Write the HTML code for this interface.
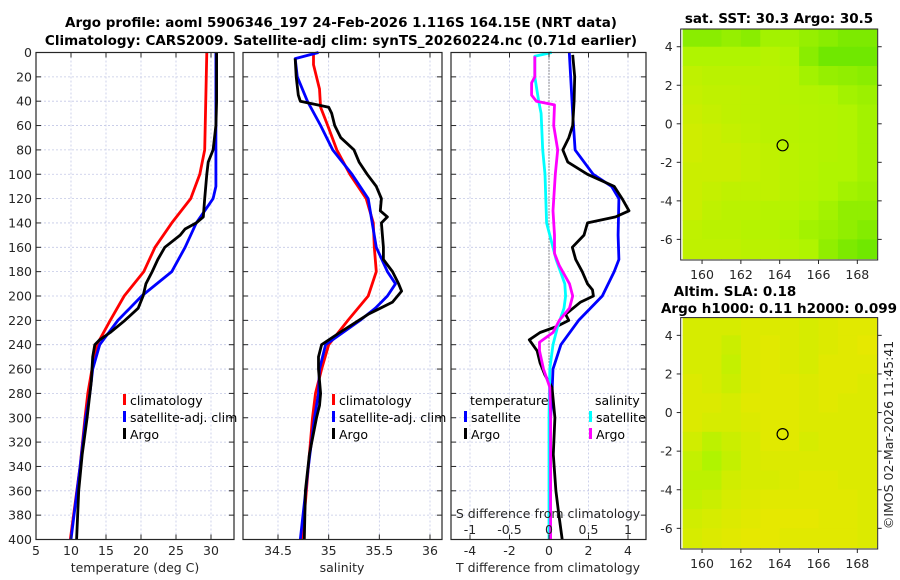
<!DOCTYPE html>
<html><head><meta charset="utf-8">
<style>
html,body{margin:0;padding:0;background:#fff;}
svg{display:block;font-family:"DejaVu Sans","Liberation Sans",sans-serif;}
.tk{font-size:12.5px;fill:#262626;}
.ttl{font-size:13.5px;font-weight:bold;fill:#000;}
.lg{font-size:12.5px;fill:#000;}
</style></head>
<body>
<svg id="fig" width="900" height="580" viewBox="0 0 900 580" xmlns="http://www.w3.org/2000/svg">
<rect width="900" height="580" fill="#fff"/>
<text class="ttl" x="341" y="27" text-anchor="middle">Argo profile: aoml 5906346_197 24-Feb-2026 1.116S 164.15E (NRT data)</text>
<text class="ttl" x="341" y="45" text-anchor="middle">Climatology: CARS2009. Satellite-adj clim: synTS_20260224.nc (0.71d earlier)</text>
<g id="g1"></g>
<g id="g2"></g>
<g id="g3"></g>
<g id="m1"></g>
<g id="m2"></g>
<text class="ttl" x="779" y="23" text-anchor="middle">sat. SST: 30.3 Argo: 30.5</text>
<text class="ttl" x="735" y="296" text-anchor="middle">Altim. SLA: 0.18</text>
<text class="ttl" x="779" y="313" text-anchor="middle">Argo h1000: 0.11 h2000: 0.099</text>
<text class="tk" transform="translate(893,435) rotate(-90)" text-anchor="middle">©IMOS 02-Mar-2026 11:45:41</text>
</svg>
<script>
// ---------- profile data ----------
const tClimDepth=[0,80,100,120,140,160,180,200,220,240,260,280,300,340,400];
const tClimVal=[29.4,29.1,28.4,27.1,24.4,22.0,20.4,17.6,15.6,13.7,13.0,12.4,12.0,11.3,9.9];
const tSatDepth=[0,110,120,130,140,160,180,200,220,240,260,280,300,340,400];
const tSatVal=[30.7,30.7,30.3,29.1,27.9,26.3,24.4,20.1,16.7,14.1,13.1,12.7,12.1,11.3,10.0];
const tArgoDepth=[0,40,60,80,90,100,120,135,140,145,150,160,170,180,190,200,210,220,230,236,240,250,270,300,330,360,400];
const tArgoVal=[30.8,30.8,30.7,30.3,29.6,29.4,29.1,28.9,27.9,26.3,25.6,23.4,22.4,21.6,20.7,20.3,19.6,17.7,15.6,14.1,13.4,13.1,12.9,12.3,11.6,11.1,10.8];

const sClimDepth=[0,10,30,45,60,80,100,120,140,160,180,200,220,240,260,280,300,340,400];
const sClimVal=[34.85,34.85,34.91,34.92,34.99,35.08,35.21,35.37,35.44,35.45,35.47,35.39,35.19,35.0,34.93,34.87,34.84,34.80,34.74];
const sSatDepth=[0,5,20,40,60,80,100,120,140,160,180,190,200,210,220,240,260,280,300,340,400];
const sSatVal=[34.9,34.67,34.69,34.79,34.92,35.04,35.23,35.39,35.43,35.47,35.58,35.66,35.58,35.46,35.31,34.97,34.91,34.9,34.86,34.8,34.72];
const sArgoDepth=[5,20,35,40,45,50,60,70,80,90,100,110,120,130,135,140,150,160,170,180,190,196,205,215,230,240,250,260,280,290,300,330,360,400];
const sArgoVal=[34.67,34.68,34.7,34.72,35.0,35.03,35.06,35.12,35.25,35.3,35.38,35.47,35.52,35.51,35.58,35.52,35.53,35.54,35.54,35.63,35.69,35.72,35.63,35.39,35.11,34.93,34.9,34.9,34.92,34.91,34.88,34.81,34.77,34.76];

const dtSatDepth=[0,50,80,100,110,120,150,170,180,200,220,240,260,280,300,400];
const dtSatVal=[1.03,1.2,1.32,2.24,3.17,3.54,3.5,3.54,3.3,2.7,1.5,0.6,0.2,0.15,0.08,0.08];
const dtArgoDepth=[2,20,40,60,70,80,90,100,110,120,130,135,140,150,160,170,180,190,195,200,205,215,220,225,230,236,245,255,265,275,300,330,360,380,400];
const dtArgoVal=[1.2,1.3,1.27,1.2,1.0,0.7,0.95,1.95,3.3,3.7,4.05,3.37,1.95,1.77,1.18,1.35,1.68,1.95,2.2,2.25,1.6,0.84,1.0,0.4,-0.45,-1.0,-0.6,-0.45,-0.2,0.15,0.3,0.22,0.35,0.5,0.67];
const dsSatDepth=[0,3,20,40,50,80,100,140,150,170,190,200,210,225,240,260,300,400];
const dsSatVal=[0.034,-0.18,-0.18,-0.13,-0.1,-0.08,-0.05,-0.03,0.01,0.09,0.2,0.21,0.19,0.11,0.05,0.01,0,0];
const dsArgoDepth=[3,20,25,35,40,43,60,80,100,130,150,165,175,190,200,210,220,230,238,245,260,275,300,400];
const dsArgoVal=[-0.18,-0.18,-0.22,-0.22,-0.16,0.07,0.06,0.11,0.08,0.05,0.07,0.07,0.13,0.26,0.3,0.26,0.13,0.05,-0.12,-0.12,-0.07,0.01,0.02,0.02];

const depthTicks=[0,20,40,60,80,100,120,140,160,180,200,220,240,260,280,300,320,340,360,380,400];
const tTicks=[5,10,15,20,25,30];
const sTicks=[34.5,35,35.5,36];
const dtTicks=[-4,-2,0,2,4];
const dsTicks=[-1,-0.5,0,0.5,1];

// ---------- map data (rows: lat 5..-7 step 1, cols: lon 159..169 step 1), 0=green 1=yellow ----------
const mapLats=[5,4,3,2,1,0,-1,-2,-3,-4,-5,-6,-7];
const mapLons=[159,160,161,162,163,164,165,166,167,168,169];
const sstGrid=[
[0.35,0.35,0.4,0.35,0.45,0.45,0.4,0.35,0.3,0.3],
[0.5,0.5,0.5,0.5,0.55,0.5,0.35,0.25,0.25,0.25],
[0.62,0.58,0.58,0.58,0.58,0.55,0.45,0.4,0.38,0.35],
[0.66,0.62,0.62,0.6,0.58,0.55,0.52,0.5,0.45,0.42],
[0.7,0.66,0.62,0.6,0.58,0.56,0.54,0.52,0.5,0.45],
[0.74,0.7,0.66,0.62,0.58,0.56,0.54,0.52,0.5,0.45],
[0.74,0.7,0.7,0.66,0.62,0.58,0.55,0.52,0.5,0.45],
[0.7,0.7,0.7,0.66,0.62,0.58,0.55,0.5,0.5,0.45],
[0.7,0.66,0.62,0.62,0.62,0.58,0.54,0.5,0.45,0.42],
[0.7,0.62,0.58,0.58,0.55,0.55,0.5,0.45,0.38,0.38],
[0.62,0.58,0.58,0.55,0.55,0.5,0.45,0.42,0.38,0.33],
[0.62,0.62,0.62,0.58,0.58,0.55,0.5,0.38,0.3,0.25]];
const slaGrid=[
[0.8,0.8,0.8,0.84,0.84,0.84,0.8,0.84,0.88,0.88],
[0.8,0.8,0.7,0.84,0.88,0.84,0.8,0.84,0.88,0.92],
[0.8,0.8,0.66,0.84,0.88,0.84,0.8,0.88,0.88,0.88],
[0.84,0.8,0.7,0.84,0.88,0.88,0.84,0.88,0.88,0.84],
[0.84,0.84,0.8,0.88,0.88,0.88,0.84,0.88,0.84,0.84],
[0.84,0.8,0.8,0.84,0.88,0.88,0.84,0.84,0.84,0.84],
[0.75,0.6,0.7,0.8,0.88,0.88,0.8,0.84,0.84,0.84],
[0.65,0.5,0.65,0.8,0.84,0.84,0.84,0.84,0.84,0.84],
[0.6,0.6,0.75,0.8,0.8,0.84,0.88,0.88,0.84,0.84],
[0.65,0.7,0.8,0.84,0.88,0.88,0.88,0.88,0.88,0.84],
[0.75,0.8,0.84,0.88,0.92,0.92,0.92,0.88,0.88,0.84],
[0.8,0.84,0.88,0.92,0.92,0.88,0.88,0.88,0.88,0.84]];
const argoLon=164.15, argoLat=-1.116;
const mapLatTicks=[4,2,0,-2,-4,-6];
const mapLonTicks=[160,162,164,166,168];

// ---------- drawing ----------
const NS="http://www.w3.org/2000/svg";
function mk(parent,tag,attrs){const e=document.createElementNS(NS,tag);for(const k in attrs)e.setAttribute(k,attrs[k]);parent.appendChild(e);return e;}
const Y0=52.5,Y1=539.5;
const yD=d=>Y0+(d/400)*(Y1-Y0);

function panel(g,x0,x1,xf,ticks){
  depthTicks.forEach(d=>{const l=mk(g,'line',{x1:x0,x2:x1,y1:yD(d),y2:yD(d),stroke:'#c3c8e6','stroke-width':0.8,'stroke-dasharray':'2,2'});
    });
  ticks.forEach(v=>{const x=xf(v);const l=mk(g,'line',{x1:x,x2:x,y1:Y0,y2:Y1,stroke:'#c3c8e6','stroke-width':0.8,'stroke-dasharray':'2,2'});
    });
}
function frame(g,x0,x1,xf,ticks,fmt,showDepthLabels){
  const r=mk(g,'rect',{x:x0,y:Y0,width:x1-x0,height:Y1-Y0,fill:'none',stroke:'#262626','stroke-width':1.2});
  
  depthTicks.forEach(d=>{
    mk(g,'line',{x1:x0,x2:x0+5,y1:yD(d),y2:yD(d),stroke:'#262626'});
    mk(g,'line',{x1:x1-5,x2:x1,y1:yD(d),y2:yD(d),stroke:'#262626'});
    if(showDepthLabels){const t=mk(g,'text',{x:x0-4,y:yD(d)+4.5,'text-anchor':'end',class:'tk'});t.textContent=d;
      }
  });
  ticks.forEach(v=>{const x=xf(v);
    mk(g,'line',{x1:x,x2:x,y1:Y1-5,y2:Y1,stroke:'#262626'});
    mk(g,'line',{x1:x,x2:x,y1:Y0,y2:Y0+5,stroke:'#262626'});
    if(fmt){const t=mk(g,'text',{x:x,y:555,'text-anchor':'middle',class:'tk'});t.textContent=fmt(v);
      }
  });
}
function line(g,depths,vals,xf,color,name){
  const pts=depths.map((d,i)=>xf(vals[i]).toFixed(1)+','+yD(d).toFixed(1)).join(' ');
  const p=mk(g,'polyline',{points:pts,fill:'none',stroke:color,'stroke-width':2.8,'stroke-linejoin':'round'});
  
  
}
function legendItem(g,x,y,color,label){
  mk(g,'rect',{x:x,y:y-11,width:3,height:11,fill:color});
  const t=mk(g,'text',{x:x+7,y:y,class:'lg'});t.textContent=label;
  
  
}

// panel 1
const g1=document.getElementById('g1');
const xT=v=>36+(v-5)*(211-36)/25;
panel(g1,36,234,xT,tTicks);
line(g1,tClimDepth,tClimVal,xT,'#ff0000','temp-climatology-line');
line(g1,tSatDepth,tSatVal,xT,'#0000ff','temp-satellite-line');
line(g1,tArgoDepth,tArgoVal,xT,'#000000','temp-argo-line');
frame(g1,36,234,xT,tTicks,v=>v,true);
{const t=mk(g1,'text',{x:135,y:572,'text-anchor':'middle',class:'tk'});t.textContent='temperature (deg C)';}

// panel 2
const g2=document.getElementById('g2');
const xS=v=>278+(v-34.5)*(430-278)/1.5;
panel(g2,243,442,xS,sTicks);
line(g2,sClimDepth,sClimVal,xS,'#ff0000','sal-climatology-line');
line(g2,sSatDepth,sSatVal,xS,'#0000ff','sal-satellite-line');
line(g2,sArgoDepth,sArgoVal,xS,'#000000','sal-argo-line');
frame(g2,243,442,xS,sTicks,v=>v,false);
{const t=mk(g2,'text',{x:342,y:572,'text-anchor':'middle',class:'tk'});t.textContent='salinity';}

// panel 3
const g3=document.getElementById('g3');
const xDT=v=>549+v*19.75;
const xDS=v=>549+v*79;
panel(g3,451,646,xDT,dtTicks);
mk(g3,'line',{x1:549,x2:549,y1:Y0,y2:Y1,stroke:'#333','stroke-width':1,'stroke-dasharray':'1,2'});
line(g3,dtSatDepth,dtSatVal,xDT,'#0000ff','dT-satellite-line');
line(g3,dtArgoDepth,dtArgoVal,xDT,'#000000','dT-argo-line');
line(g3,dsSatDepth,dsSatVal,xDS,'#00ffff','dS-satellite-line');
line(g3,dsArgoDepth,dsArgoVal,xDS,'#ff00ff','dS-argo-line');
frame(g3,451,646,xDT,dtTicks,v=>v,false);
dsTicks.forEach(v=>{const t=mk(g3,'text',{x:xDS(v),y:534,'text-anchor':'middle',class:'tk'});t.textContent=v;
  });
{const t=mk(g3,'text',{x:548,y:518,'text-anchor':'middle',class:'tk'});t.textContent='S difference from climatology';}
{const t=mk(g3,'text',{x:548,y:572,'text-anchor':'middle',class:'tk'});t.textContent='T difference from climatology';}

// legends
legendItem(g1,123,405,'#ff0000','climatology');
legendItem(g1,123,422,'#0000ff','satellite-adj. clim');
legendItem(g1,123,439,'#000000','Argo');
legendItem(g2,332,405,'#ff0000','climatology');
legendItem(g2,332,422,'#0000ff','satellite-adj. clim');
legendItem(g2,332,439,'#000000','Argo');
{const t=mk(g3,'text',{x:470,y:405,class:'lg'});t.textContent='temperature';}
{const t=mk(g3,'text',{x:595,y:405,class:'lg'});t.textContent='salinity';}
legendItem(g3,464,422,'#0000ff','satellite');
legendItem(g3,464,439,'#000000','Argo');
legendItem(g3,589,422,'#00ffff','satellite');
legendItem(g3,589,439,'#ff00ff','Argo');

// maps
function col(v){
  let a,b,t;
  if(v<0.5){a=[0x30,0xdc,0x00];b=[0xb0,0xf4,0x00];t=v/0.5;}
  else{a=[0xb0,0xf4,0x00];b=[0xf0,0xe6,0x00];t=(v-0.5)/0.5;}
  return 'rgb('+a.map((c,i)=>Math.round(c+(b[i]-c)*t)).join(',')+')';
}
function drawMap(g,grid,X0,X1,Yt,Yb){
  const lonL=158.9,lonR=169.05,latT=4.92,latB=-7.07;
  const xm=l=>X0+(l-lonL)/(lonR-lonL)*(X1-X0);
  const ym=l=>Yt+(latT-l)/(latT-latB)*(Yb-Yt);
  const clip='c'+Math.round(Yt);
  const cp=mk(g,'clipPath',{id:clip});mk(cp,'rect',{x:X0,y:Yt,width:X1-X0,height:Yb-Yt});
  const cg=mk(g,'g',{'clip-path':'url(#'+clip+')'});
  grid.forEach((row,i)=>row.forEach((v,j)=>{
    const x=xm(mapLons[j]),y=ym(mapLats[i]);
    const r=mk(cg,'rect',{x:x,y:y,width:xm(mapLons[j+1])-x+0.5,height:ym(mapLats[i+1])-y+0.5,fill:col(v)});
    
    
  }));
  const c=mk(g,'circle',{cx:xm(argoLon),cy:ym(argoLat),r:5.5,fill:'none',stroke:'#000','stroke-width':1.2});
  
  
  mk(g,'rect',{x:X0,y:Yt,width:X1-X0,height:Yb-Yt,fill:'none',stroke:'#262626','stroke-width':1});
  mapLatTicks.forEach(l=>{const y=ym(l);
    mk(g,'line',{x1:X0-4,x2:X0,y1:y,y2:y,stroke:'#262626'});
    mk(g,'line',{x1:X1,x2:X1+4,y1:y,y2:y,stroke:'#262626'});
    const t=mk(g,'text',{x:X0-8,y:y+4.5,'text-anchor':'end',class:'tk'});t.textContent=l;
    });
  mapLonTicks.forEach(l=>{const x=xm(l);
    mk(g,'line',{x1:x,x2:x,y1:Yb,y2:Yb+4,stroke:'#262626'});
    const t=mk(g,'text',{x:x,y:Yb+19,'text-anchor':'middle',class:'tk'});t.textContent=l;
    });
}
drawMap(document.getElementById('m1'),sstGrid,680.7,877.7,29,260);
drawMap(document.getElementById('m2'),slaGrid,680.7,877.7,317.6,549);
</script>
</body></html>
